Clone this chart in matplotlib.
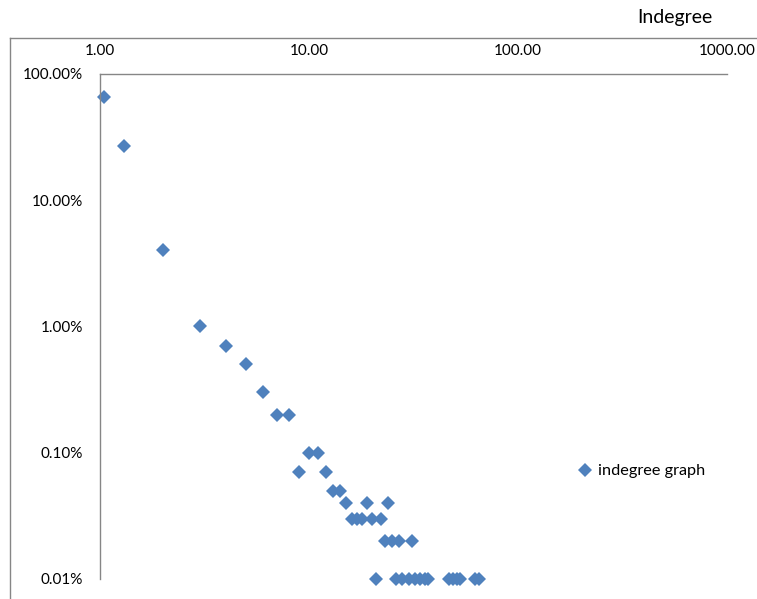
import matplotlib
matplotlib.use("Agg")
import matplotlib.pyplot as plt
from matplotlib.lines import Line2D
from matplotlib.ticker import FixedLocator, FuncFormatter, NullLocator

plt.rcParams["font.family"] = ["Lato", "DejaVu Sans"]

# indegree values and share of nodes (percent)
indegree = [1.05, 1.3, 2, 3, 4, 5, 6, 7, 8, 9, 10, 11, 12, 13, 14, 15, 16, 17, 18,
            19, 20, 21, 22, 23, 24, 25, 26, 27, 28, 30, 31, 32, 34, 36, 37,
            47, 49, 51, 53, 62, 65]
share_pct = [65, 27, 4, 1, 0.7, 0.5, 0.3, 0.2, 0.2, 0.07, 0.1, 0.1, 0.07, 0.05, 0.05,
             0.04, 0.03, 0.03, 0.03, 0.04, 0.03, 0.01, 0.03, 0.02, 0.04, 0.02, 0.01,
             0.02, 0.01, 0.01, 0.02, 0.01, 0.01, 0.01, 0.01,
             0.01, 0.01, 0.01, 0.01, 0.01, 0.01]
share = [v / 100 for v in share_pct]

x_ticks = [1, 10, 100, 1000]
y_ticks = [0.0001, 0.001, 0.01, 0.1, 1]

W, H = 757, 599
fig = plt.figure(figsize=(W / 100, H / 100), dpi=100)
ax = fig.add_axes([100 / W, 1 - 579 / H, 627 / W, (579 - 73.7) / H])

ax.plot(indegree, share, linestyle="none", marker="D", markersize=6.8,
        markeredgewidth=0, color="#4F81BD", label="indegree graph", clip_on=False)

ax.set_xscale("log")
ax.set_yscale("log")
ax.set_xlim(1, 1000)
ax.set_ylim(0.0001, 1)

ax.xaxis.set_major_locator(FixedLocator(x_ticks))
ax.xaxis.set_minor_locator(NullLocator())
ax.yaxis.set_major_locator(FixedLocator(y_ticks))
ax.yaxis.set_minor_locator(NullLocator())
ax.xaxis.set_major_formatter(FuncFormatter(lambda v, p: f"{v:.2f}"))
ax.yaxis.set_major_formatter(FuncFormatter(lambda v, p: f"{v * 100:.2f}%"))
ax.xaxis.tick_top()
ax.tick_params(axis="x", length=0, pad=11, labelsize=11)
ax.tick_params(axis="y", length=0, pad=12, labelsize=11)

for side in ["right", "bottom"]:
    ax.spines[side].set_visible(False)
for side in ["left", "top"]:
    ax.spines[side].set_color("#868686")
    ax.spines[side].set_linewidth(1)

ax.legend(loc="center left", bbox_to_anchor=(577 / W, 1 - 471 / H),
          bbox_transform=fig.transFigure, frameon=False, numpoints=1,
          handlelength=1.0, handletextpad=0.3, borderpad=0, borderaxespad=0,
          fontsize=11.7)

fig.text(675 / W, 1 - 17 / H, "Indegree", ha="center", va="center", fontsize=14)

# chart area border
fig.add_artist(Line2D([10 / W, 1], [1 - 38 / H, 1 - 38 / H], transform=fig.transFigure,
                      color="#868686", lw=1))
fig.add_artist(Line2D([10 / W, 10 / W], [0, 1 - 38 / H], transform=fig.transFigure,
                      color="#868686", lw=1))

fig.savefig("out.png", dpi=100)
